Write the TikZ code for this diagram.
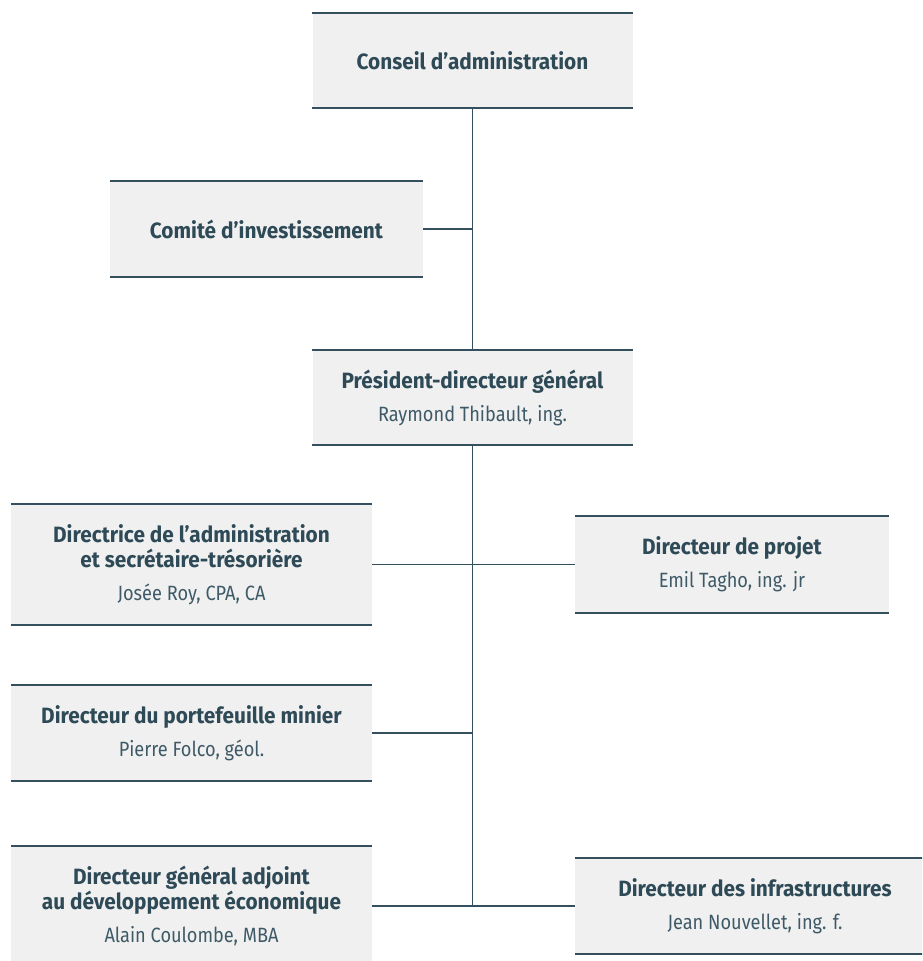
\documentclass[tikz,border=0pt]{standalone}
\usepackage{fontspec}
\setmainfont{Fira Sans}[FakeStretch=0.94]
\newfontfamily\namefont{Fira Sans}[FakeStretch=0.88]
\definecolor{boxgray}{HTML}{F0F0F0}
\definecolor{inkline}{HTML}{34505E}
\definecolor{inktext}{HTML}{2E4A57}
\definecolor{inkname}{HTML}{3E5A67}
\newcommand{\personline}[1]{{\namefont\fontsize{15.5}{18.75}\selectfont\color{inkname}#1}}

\begin{document}
\begin{tikzpicture}[x=0.75pt,y=-0.75pt]
\clip (0,0) rectangle (922,961);


\tikzset{BoxStyle/.style 2 args = {
 shape = rectangle,
 fill = boxgray,
 text = inktext,
 align = center,
 inner sep = 0pt,
 font = \fontsize{16.6}{18.75}\selectfont,
 minimum width = #1*0.75pt,
 minimum height = #2*0.75pt} }

\node[BoxStyle={320}{95}] (CA) at (472.5, 60.5) {\textbf{Conseil d’administration}};
\node[BoxStyle={313}{96}] (CI) at (266.5, 229) {\textbf{Comité d’investissement}};
\node[BoxStyle={320}{95}] (PDG) at (472.5, 397.5) {\textbf{Président-directeur général}\\[6pt]
 \personline{Raymond Thibault, ing.}};
\node[BoxStyle={361}{120}] (DA) at (191.5, 564.5) {\textbf{Directrice de l’administration}\\
 \textbf{et secrétaire-trésorière}\\[6pt] \personline{Josée Roy, CPA, CA}};
\node[BoxStyle={314}{96}] (DP) at (732, 564.5) {\textbf{Directeur de projet}\\[6pt]
 \personline{Emil Tagho, ing. jr}};
\node[BoxStyle={361}{96}] (PM) at (191.5, 733) {\textbf{Directeur du portefeuille minier}\\[6pt]
 \personline{Pierre Folco, géol.}};
\node[BoxStyle={361}{120}] (DGA) at (191.5, 906) {\textbf{Directeur général adjoint}\\
 \textbf{au développement économique}\\[6pt] \personline{Alain Coulombe, MBA}};
\node[BoxStyle={360}{95}] (INF) at (755, 906) {\textbf{Directeur des infrastructures}\\[6pt]
 \personline{Jean Nouvellet, ing. f.}};


\tikzset{RuleStyle/.style = {draw = inkline, line width = 1.2pt} }

\draw[RuleStyle] (CA.north west) -- (CA.north east) (CA.south west) -- (CA.south east);
\draw[RuleStyle] (CI.north west) -- (CI.north east) (CI.south west) -- (CI.south east);
\draw[RuleStyle] (PDG.north west) -- (PDG.north east) (PDG.south west) -- (PDG.south east);
\draw[RuleStyle] (DA.north west) -- (DA.north east) (DA.south west) -- (DA.south east);
\draw[RuleStyle] (DP.north west) -- (DP.north east) (DP.south west) -- (DP.south east);
\draw[RuleStyle] (PM.north west) -- (PM.north east) (PM.south west) -- (PM.south east);
\draw[RuleStyle] (DGA.north west) -- (DGA.north east) (DGA.south west) -- (DGA.south east);
\draw[RuleStyle] (INF.north west) -- (INF.north east) (INF.south west) -- (INF.south east);


\tikzset{EdgeStyle/.style = {draw = inkline, line width = 1.1pt} }

\coordinate (Spine) at (CA.south);

\draw[EdgeStyle] (Spine) -- (PDG.north);
\draw[EdgeStyle] (PDG.south) -- (PDG.south |- DGA.east);
\draw[EdgeStyle] (CI.east) -- (CI.east -| Spine);
\draw[EdgeStyle] (DA.east) -- (DP.west);
\draw[EdgeStyle] (PM.east) -- (PM.east -| Spine);
\draw[EdgeStyle] (DGA.east) -- (INF.west);

\end{tikzpicture}
\end{document}
